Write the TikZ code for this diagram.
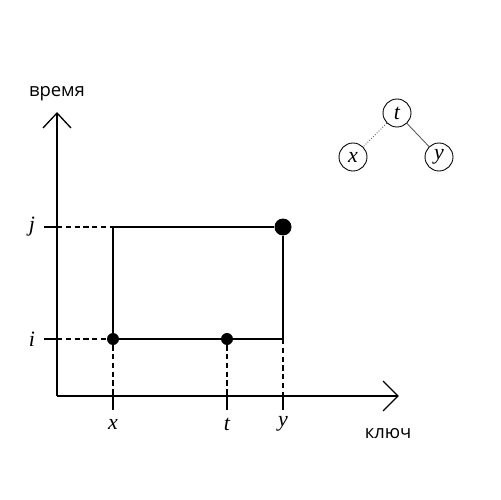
\documentclass[tikz,border=0pt]{standalone}
\usepackage{fontspec}
\newfontfamily\labelfont{Open Sans}
\newfontfamily\mathlikefont{Liberation Serif}
\begin{document}
\begin{tikzpicture}[x=0.02cm,y=-0.02cm,
  ln/.style={line width=0.75pt},
  dsh/.style={line width=0.75pt,dash pattern=on 3pt off 2pt},
  dot/.style={circle,fill=black,inner sep=0pt,minimum size=#1},
  tnode/.style={circle,draw,line width=0.5pt,minimum size=0.56cm,inner sep=0pt,font=\mathlikefont\itshape\fontsize{12.5}{14}\selectfont},
  axlab/.style={font=\mathlikefont\itshape\fontsize{12.5}{14}\selectfont},
  wlab/.style={font=\labelfont\fontsize{10.5}{12}\selectfont}]
\useasboundingbox (0,0) rectangle (500,500);
% coordinates
\coordinate (O) at (57,396);
\coordinate (ytop) at (57,113);
\coordinate (xend) at (398,396);
% axes
\draw[ln] (O) -- (ytop);
\draw[ln] (43,128) -- (ytop) -- (71,128);
\draw[ln] (O) -- (xend);
\draw[ln] (383,381) -- (xend) -- (383,411);
% points
\node[dot=0.24cm] (px) at (113,339) {};
\node[dot=0.24cm] (pt) at (227,339) {};
\node[dot=0.34cm] (py) at (283,227) {};
\coordinate (cj) at (113,227);
\coordinate (ci) at (283,339);
\coordinate (ax) at (113,396);
\coordinate (at) at (227,396);
\coordinate (ay) at (283,396);
\coordinate (jl) at (44,227);
\coordinate (il) at (44,339);
\coordinate (jy) at (57,227);
\coordinate (iy) at (57,339);
% rectangle lines
\draw[ln] (cj) -- (py);
\draw[ln] (py) -- (ci);
\draw[ln] (cj) -- (px);
\draw[ln] (px) -- (pt) -- (ci);
% dashed guides
\draw[dsh] (jy) -- (cj);
\draw[dsh] (iy) -- (px);
\draw[dsh] (px) -- (ax);
\draw[dsh] (pt) -- (at);
\draw[dsh] (ci) -- (ay);
% ticks
\draw[ln] (jl) -- (jy);
\draw[ln] (il) -- (iy);
\draw[ln] (ax) -- ++(0,14) coordinate (txb);
\draw[ln] (at) -- ++(0,14) coordinate (ttb);
\draw[ln] (ay) -- ++(0,14) coordinate (tyb);
% labels
\node[axlab] (lj) at (32,227) {j};
\node[axlab] (li) at (32,339) {i};
\node[axlab] (lx) at (113,424) {x};
\node[axlab] (lt) at (227,424) {t};
\node[axlab] (ly) at (283,424) {y};
\node[wlab] (vr) at (57,94) {время};
\node[wlab] (kl) at (388,434) {ключ};
% tree
\node[tnode] (nt) at (397,113) {t};
\node[tnode] (nx) at (353,157) {x};
\node[tnode] (ny) at (439,157) {y};
\draw[gray!70!black,line width=0.5pt,densely dotted] (nt) -- (nx);
\draw[gray!70!black,line width=0.5pt] (nt) -- (ny);
\end{tikzpicture}
\end{document}
